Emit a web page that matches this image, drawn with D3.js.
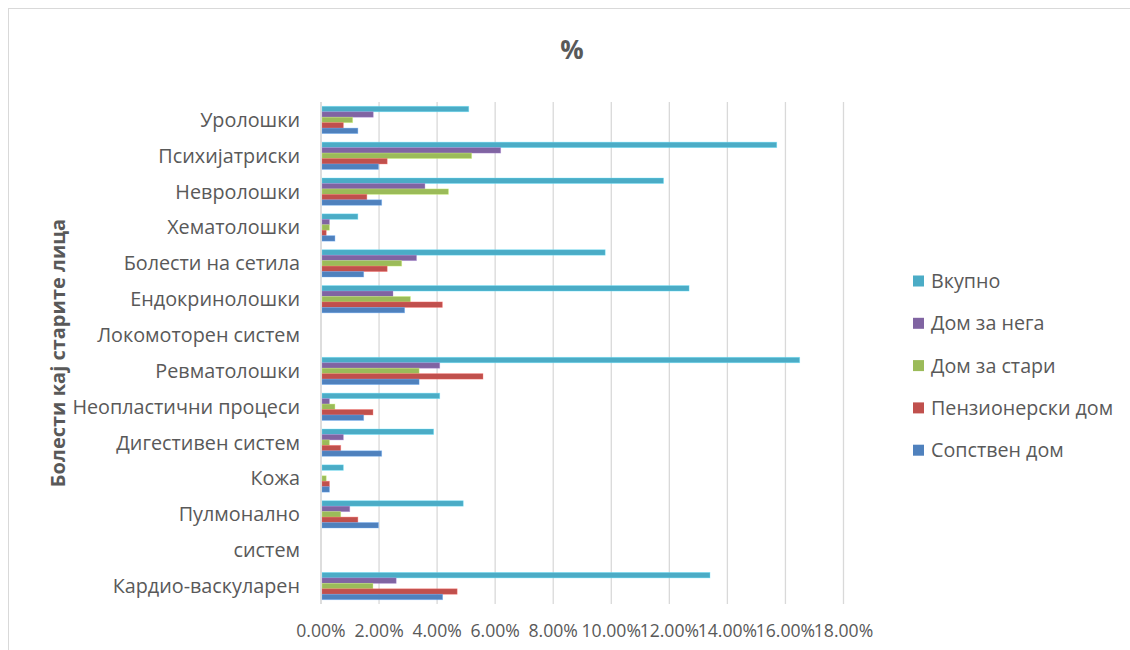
<!DOCTYPE html>
<html>
<head>
<meta charset="utf-8">
<script src="https://cdn.jsdelivr.net/npm/d3@7"></script>
<style>
  html, body { margin: 0; padding: 0; background: #fff; }
  svg { display: block; font-family: "Open Sans", "Noto Sans", "Liberation Sans", sans-serif; }
</style>
</head>
<body>
<svg id="chart" width="1130" height="650"></svg>
<script>
// Categories listed top to bottom as they appear on the vertical axis
const categories = [
  "Уролошки", "Психијатриски", "Невролошки", "Хематолошки", "Болести на сетила",
  "Ендокринолошки", "Локомоторен систем", "Ревматолошки", "Неопластични процеси",
  "Дигестивен систем", "Кожа", "Пулмонално", "систем", "Кардио-васкуларен"
];

// Series values in percent, one entry per category (same order as above)
const vkupno        = [5.09, 15.70, 11.80, 1.27, 9.79, 12.68, 0, 16.49, 4.09, 3.88, 0.77, 4.90, 0, 13.40];
const domZaNega     = [1.80, 6.19, 3.58, 0.29, 3.29, 2.48, 0, 4.09, 0.29, 0.77, 0, 0.99, 0, 2.59];
const domZaStari    = [1.09, 5.19, 4.39, 0.29, 2.78, 3.08, 0, 3.38, 0.48, 0.29, 0.18, 0.68, 0, 1.79];
const penzionerski  = [0.77, 2.28, 1.58, 0.18, 2.28, 4.18, 0, 5.58, 1.79, 0.68, 0.29, 1.27, 0, 4.69];
const sopstvenDom   = [1.27, 1.98, 2.09, 0.48, 1.47, 2.88, 0, 3.38, 1.47, 2.09, 0.29, 1.98, 0, 4.19];

const seriesNames  = ["Вкупно", "Дом за нега", "Дом за стари", "Пензионерски дом", "Сопствен дом"];
const seriesValues = [vkupno, domZaNega, domZaStari, penzionerski, sopstvenDom];
const seriesColors = ["#4BACC6", "#8064A2", "#9BBB59", "#C0504D", "#4F81BD"];

const xTicks = [0, 2, 4, 6, 8, 10, 12, 14, 16, 18];

const chartTitle = "%";
const yTitle = "Болести кај старите лица";

const svg = d3.select("#chart");
const textColor = "#595959";
const gridColor = "#d9d9d9";

// outer chart frame
svg.append("rect")
  .attr("x", 8.5).attr("y", 8.5)
  .attr("width", 1140).attr("height", 660)
  .attr("fill", "none").attr("stroke", gridColor).attr("stroke-width", 1);

const plot = { left: 321, right: 843.5, top: 102, bottom: 604 };

const x = d3.scaleLinear().domain([0, 18]).range([plot.left, plot.right]);
const y0 = d3.scaleBand().domain(categories).range([plot.top, plot.bottom])
  .paddingInner(0.24).paddingOuter(0.12);
const y1 = d3.scaleBand().domain(seriesNames).range([0, y0.bandwidth()]);

// vertical gridlines
svg.append("g").selectAll("line").data(xTicks).join("line")
  .attr("x1", d => x(d)).attr("x2", d => x(d))
  .attr("y1", plot.top).attr("y2", plot.bottom)
  .attr("stroke", gridColor).attr("stroke-width", 1.3);

// bars
const groups = svg.append("g").selectAll("g").data(categories).join("g")
  .attr("transform", c => `translate(0,${y0(c)})`);

groups.selectAll("rect")
  .data((c, ci) => seriesNames.map((s, si) => ({ s, si, v: seriesValues[si][ci] })))
  .join("rect")
  .filter(d => d.v > 0)
  .attr("x", x(0) + 1)
  .attr("y", d => y1(d.s))
  .attr("width", d => x(d.v) - x(0) - 1)
  .attr("height", y1.bandwidth())
  .attr("fill", d => seriesColors[d.si])
  .attr("stroke", d => d3.color(seriesColors[d.si]).brighter(0.8))
  .attr("stroke-opacity", 0.45)
  .attr("stroke-width", 0.8);

// category axis line
svg.append("line")
  .attr("x1", plot.left).attr("x2", plot.left)
  .attr("y1", plot.top).attr("y2", plot.bottom)
  .attr("stroke", gridColor).attr("stroke-width", 1.3);

// category labels
svg.append("g").selectAll("text").data(categories).join("text")
  .attr("x", 300)
  .attr("y", c => y0(c) + y0.bandwidth() / 2)
  .attr("dy", "0.35em")
  .attr("text-anchor", "end")
  .attr("font-size", 19.8)
  .attr("fill", textColor)
  .text(c => c);

// value axis tick labels
svg.append("g").selectAll("text").data(xTicks).join("text")
  .attr("x", d => x(d))
  .attr("y", 631)
  .attr("dy", "0.35em")
  .attr("text-anchor", "middle")
  .attr("font-size", 17.6)
  .attr("fill", textColor)
  .text(d => d3.format(".2f")(d) + "%");

// chart title
svg.append("text")
  .attr("x", 572).attr("y", 50)
  .attr("dy", "0.35em")
  .attr("text-anchor", "middle")
  .attr("font-size", 26)
  .attr("font-weight", "bold")
  .attr("fill", textColor)
  .text(chartTitle);

// vertical axis title
svg.append("text")
  .attr("transform", "translate(58,353) rotate(-90)")
  .attr("dy", "0.35em")
  .attr("text-anchor", "middle")
  .attr("font-size", 20)
  .attr("font-weight", "bold")
  .attr("fill", textColor)
  .text(yTitle);

// legend
const legend = svg.append("g").selectAll("g").data(seriesNames).join("g")
  .attr("transform", (d, i) => `translate(913,${281 + i * 42.3})`);
legend.append("rect")
  .attr("x", 0).attr("y", -5.5)
  .attr("width", 11).attr("height", 11)
  .attr("fill", (d, i) => seriesColors[i]);
legend.append("text")
  .attr("x", 18).attr("y", 0)
  .attr("dy", "0.35em")
  .attr("font-size", 19.7)
  .attr("fill", textColor)
  .text(d => d);
</script>
</body>
</html>
